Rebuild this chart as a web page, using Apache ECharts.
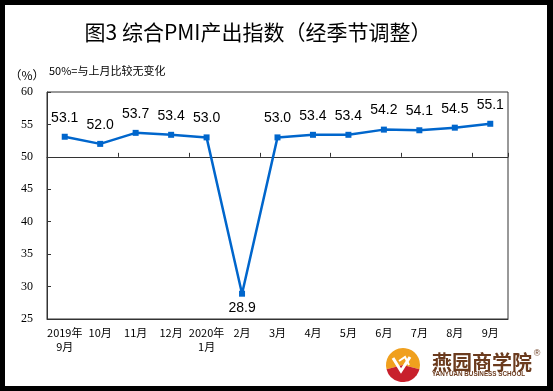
<!DOCTYPE html>
<html><head><meta charset="utf-8">
<script src="https://cdn.jsdelivr.net/npm/echarts@6/dist/echarts.min.js"></script>
<style>
html,body{margin:0;padding:0;background:#000;width:553px;height:391px;overflow:hidden}
#c{position:absolute;left:5px;top:5px;width:542px;height:381px;background:#fff}
</style></head>
<body><div id="c"></div>
<script>
const categories = ['2019年\n9月','10月','11月','12月','2020年\n1月','2月','3月','4月','5月','6月','7月','8月','9月'];
const values = [53.1, 52.0, 53.7, 53.4, 53.0, 28.9, 53.0, 53.4, 53.4, 54.2, 54.1, 54.5, 55.1];
const yTicks = [25, 30, 35, 40, 45, 50, 55, 60];
const titleText = '图3 综合PMI产出指数（经季节调整）';
const unitText = '（%）';
const noteText = '50%=与上月比较无变化';
const baseline = 50;

const yMin = yTicks[0], yMax = yTicks[yTicks.length-1];
const gTop = 87, gLeft = 42, gW = 461, gH = 227;
const chart = echarts.init(document.getElementById('c'));
const labelFont = 'Liberation Sans, Arial, sans-serif';
chart.setOption({
  backgroundColor: '#fff',
  animation: false,
  grid: [
    {left: gLeft, top: gTop, width: gW, height: gH, show: true, borderColor: '#333', borderWidth: 1, backgroundColor: 'transparent'},
    {left: gLeft, top: gTop, width: gW, height: gH*(yMax-baseline)/(yMax-yMin), show: false}
  ],
  xAxis: [
    {type: 'category', gridIndex: 0, data: categories, boundaryGap: true,
     axisLine: {show: true, lineStyle: {color: '#333', width: 1}},
     axisTick: {show: false},
     axisLabel: {color: '#000', fontSize: 11, lineHeight: 14, margin: 7, interval: 0,
                 fontFamily: 'Noto Sans CJK SC, sans-serif'}},
    {type: 'category', gridIndex: 1, data: categories, boundaryGap: true,
     axisLine: {show: true, lineStyle: {color: '#333', width: 1}},
     axisTick: {show: true, inside: true, length: 4, lineStyle: {color: '#333'}},
     axisLabel: {show: false}}
  ],
  yAxis: [
    {type: 'value', gridIndex: 0, min: yMin, max: yMax, interval: 5,
     axisLine: {show: true, lineStyle: {color: '#333', width: 1}},
     axisTick: {show: true, inside: true, length: 4, lineStyle: {color: '#333'}},
     splitLine: {show: false},
     axisLabel: {color: '#000', fontSize: 12, margin: 14, fontFamily: 'Liberation Serif, serif'}},
    {type: 'value', gridIndex: 1, min: baseline, max: yMax, show: false}
  ],
  series: [{
    type: 'line', xAxisIndex: 0, yAxisIndex: 0,
    data: values.map((v, i) => ({
      value: v,
      label: {position: v < baseline ? 'bottom' : 'top', distance: v < baseline ? 4 : 9}
    })),
    symbol: 'rect', symbolSize: 6,
    lineStyle: {color: '#0066cc', width: 2.5},
    itemStyle: {color: '#0066cc'},
    label: {show: true, formatter: p => p.value.toFixed(1), color: '#000', fontSize: 14, fontFamily: labelFont}
  }],
  graphic: [
    {type: 'text', x: 253, y: 27, style: {text: titleText, fill: '#000', font: '21px "Noto Sans CJK SC", sans-serif', align: 'center', verticalAlign: 'middle'}},
    {type: 'text', x: 22, y: 70, style: {text: unitText, fill: '#000', font: '12px "Noto Sans CJK SC", sans-serif', align: 'center', verticalAlign: 'middle'}},
    {type: 'text', x: 44, y: 66, style: {text: noteText, fill: '#000', font: '11px "Noto Sans CJK SC", sans-serif', align: 'left', verticalAlign: 'middle'}},
    // logo
    {type: 'sector', shape: {cx: 398, cy: 360, r: 17, startAngle: Math.PI*0.92, endAngle: Math.PI*2.08}, style: {fill: '#f0a01e'}},
    {type: 'sector', shape: {cx: 398, cy: 360, r: 17, startAngle: Math.PI*0.08, endAngle: Math.PI*0.92}, style: {fill: '#c8202c'}},
    {type: 'polyline', shape: {points: [[388,353],[396,366],[405,352]]}, style: {stroke: '#fff', lineWidth: 3, fill: null}},
    {type: 'polyline', shape: {points: [[394,356],[400,352],[404,360]]}, style: {stroke: '#fff', lineWidth: 2, fill: null}},
    {type: 'text', x: 427, y: 357, style: {text: '燕园商学院', fill: '#6b3b1e', font: 'bold 20px "Noto Sans CJK SC", sans-serif', align: 'left', verticalAlign: 'middle'}},
    {type: 'text', x: 427, y: 369, style: {text: 'YANYUAN BUSINESS SCHOOL', fill: '#6b3b1e', font: 'bold 6.3px "Liberation Sans", Arial, sans-serif', align: 'left', verticalAlign: 'middle'}},
    {type: 'text', x: 532, y: 349, style: {text: '®', fill: '#6b3b1e', font: '9px "Liberation Sans", Arial, sans-serif', align: 'center', verticalAlign: 'middle'}}
  ]
});
</script></body></html>
